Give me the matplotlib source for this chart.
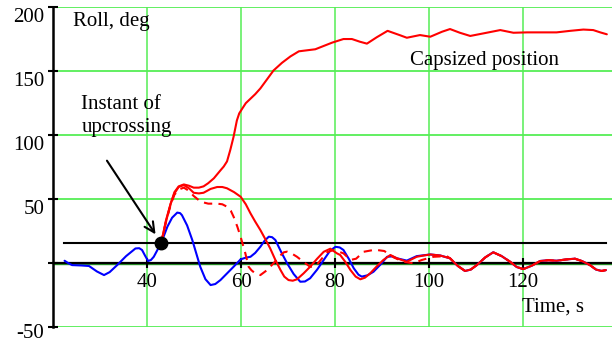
import matplotlib
matplotlib.use("Agg")
import matplotlib.pyplot as plt
from matplotlib.transforms import ScaledTranslation

plt.rcParams['font.family'] = ['Liberation Serif', 'DejaVu Serif']

# ---- data ----
blue_x = [22.4, 23.2, 24.0, 26.0, 27.6, 29.3, 30.8, 32.0, 33.6, 35.5, 37.5, 38.3, 38.9, 39.6,
          40.2, 40.8, 41.4, 42.2, 43.0, 44.3, 45.3, 46.4, 47.0, 47.4, 48.5, 49.6, 51.3, 52.4,
          53.5, 54.5, 55.6, 57.0, 58.4, 59.9, 61.0, 62.0, 63.0, 64.1, 65.0, 65.9, 66.6, 67.3,
          68.5, 69.8, 71.2, 72.6, 73.6, 74.7, 76.2, 77.6, 78.9, 80.1, 81.0, 81.8, 83.0, 84.0,
          85.0, 85.7, 86.9, 88.2, 89.7, 91.1, 92.2, 93.2, 95.3, 97.4]
blue_y = [1.4, -0.5, -2, -2.3, -2.7, -7, -9.8, -7.5, -2, 5, 11, 11.2, 9.8, 5,
          1.2, 2, 4.5, 10, 15.5, 28, 35, 39, 38.6, 37, 29, 17.6, -3.3, -13,
          -17.6, -16.8, -13.7, -8.5, -3.3, 2.5, 3.8, 4.5, 7.5, 12.3, 17, 20.2, 19.8, 17.6,
          8.5, -0.6, -9, -15, -14.8, -12.3, -5.5, 2, 9, 12.3, 11.8, 9.8, 2.5, -4.5,
          -9.5, -11, -10, -7.2, -1.5, 4.5, 4.8, 3.3, 1.5, 5]

tail_x = [100.3, 102.4, 104.5, 106.1, 107.7, 108.9, 110.2, 112.0, 113.7, 115.5, 117.3, 118.7,
          120.1, 121.9, 123.7, 125.5, 127.2, 129.2, 131.1, 132.7, 134.3, 135.6, 136.8, 137.7]
tail_y = [6.3, 5.5, 3.3, -2.5, -6.6, -5.5, -2, 4, 8, 5, 0.6, -3.5,
          -5.1, -2.5, 1.2, 1.8, 1.4, 2.4, 3, 1, -2, -5.5, -6.6, -5.9]

red2_x = [43.0, 44.0, 45.0, 45.8, 46.7, 47.8, 48.9, 49.9, 51.0, 52.0, 53.5, 54.9, 56.0, 57.0,
          58.5, 59.9, 61.0, 62.0, 63.0, 64.1, 65.2, 66.2, 67.3, 68.4, 69.2, 70.1, 71.0, 71.9,
          73.3, 74.7, 76.2, 77.6, 79.0, 80.4, 81.1, 82.2, 83.3, 84.4, 85.4, 86.4, 87.5, 88.9,
          90.3, 91.8, 93.2, 95.3, 97.4, 98.9]
red2_y = [15.5, 32, 46, 54, 59, 60.5, 58, 54.5, 54, 54.5, 57.5, 59, 59, 58,
          55, 51.4, 45.5, 38.4, 32, 25.4, 18, 11, 2, -5.9, -11, -13.7, -14.2, -13.1,
          -8.5, -3.3, 3, 8.4, 10.8, 7.2, 5.9, 0.5, -5.9, -11, -13.1, -11.8, -8.4, -3,
          2, 5.9, 3.3, 0.6, 4.5, 5.5]

cap_x = [43.0, 44.0, 45.0, 45.8, 46.7, 47.8, 48.9, 49.9, 51.0, 52.0, 53.0, 54.2, 55.6, 56.3,
         57.0, 57.7, 58.4, 59.1, 59.6, 60.2, 61.0, 62.0, 63.0, 64.1, 65.5, 66.9, 68.7, 70.5,
         72.3, 75.8, 79.4, 81.8, 83.6, 85.3, 86.8, 88.9, 91.2, 93.9, 95.3, 98.1, 100.3,
         102.8, 104.5, 106.6, 108.8, 111.6, 115.2, 118.0, 120.9, 124.4, 127.2, 130.1, 132.9,
         135.0, 136.5, 137.9]
cap_y = [15.5, 33, 46, 55, 59.5, 61, 60, 58.5, 58.5, 59.5, 62, 65.8, 72, 75,
         79, 88, 98.3, 111, 116.5, 120, 124.5, 128, 131.5, 136, 143, 150, 156, 161,
         165, 166.6, 171.8, 174.6, 174.6, 172.5, 171, 176, 181, 177.5, 175.6, 177.7, 176.4,
         180.3, 182.4, 179.5, 177, 179, 181.6, 179.5, 179.8, 179.8, 179.8, 181, 182,
         181.6, 179.8, 178.3]

dash_x = [43.0, 44.0, 45.0, 45.8, 46.7, 47.8, 48.9, 49.9, 51.4, 53.0, 54.9, 56.0, 57.0, 57.8,
          58.4, 59.2, 59.9, 60.9, 61.6, 62.2, 63.0, 64.1, 65.5, 66.9, 68.2, 69.1, 69.8, 70.8,
          71.9, 73.3, 74.7, 75.5, 76.2, 77.3, 78.3, 79.7, 81.8, 83.3, 84.5, 86.1, 88.5, 90.5,
          92.5, 94.6, 96.7, 98.5, 101.0, 103.8]
dash_y = [15.5, 32, 45, 53, 57, 58.5, 56, 52, 47.5, 46, 46, 45.5, 43.6, 40.5,
          35.8, 28, 20, 7.2, -3.3, -6, -8.5, -9.8, -6, -0.6, 5, 8, 8.5, 7,
          4.5, 0.5, -3.3, -3.2, -1.5, 3.5, 8, 9.8, 7.2, 2, 3, 8.4, 10, 9,
          4, 0.6, -0.6, 2, 4.5, 5]

threshold = 15.5
threshold_x = [22.2, 137.7]
upcross_x, upcross_y = 43.0, 15.5

xticks = [40, 60, 80, 100, 120]
yticks = [-50, 50, 100, 150, 200]
ytick_labels = ['-50', '50', '100', '150', '200']

# ---- figure ----
fig = plt.figure(figsize=(6.12, 3.43), dpi=100)
ax = fig.add_axes([0.0871, 0.048, 0.9129, 0.933])
ax.set_xlim(20, 139)
ax.set_ylim(-50, 200)

green = '#55ee55'
for gx in xticks:
    ax.axvline(gx, color=green, lw=1.1, zorder=1)
for gy in [-50, 50, 100, 150, 200]:
    ax.axhline(gy, color=green, lw=1.3, zorder=1)
ax.axhline(-0.9, color='#2a9a2a', lw=1.0, zorder=1)

for s in ['top', 'right']:
    ax.spines[s].set_visible(False)
ax.spines['left'].set_linewidth(1.8)
ax.spines['bottom'].set_position(('data', 0))
ax.spines['bottom'].set_linewidth(1.6)
ax.spines['bottom'].set_zorder(2)

ax.set_xticks(xticks)
ax.set_xticklabels([str(v) for v in xticks])
ax.set_yticks(yticks + [0])
ax.set_yticklabels(ytick_labels + [''])
ax.tick_params(axis='both', direction='inout', length=7, width=1.5, labelsize=15,
               colors='black')
ax.tick_params(axis='x', pad=4)
ax.tick_params(axis='y', pad=3)
for lbl in ax.get_yticklabels():
    shift = 4 if lbl.get_text() == '-50' else 8
    lbl.set_transform(lbl.get_transform() + ScaledTranslation(0, -shift / 100, fig.dpi_scale_trans))

# threshold line
ax.plot(threshold_x, [threshold, threshold], color='black', lw=1.5, zorder=3)

# curves
kw = dict(lw=1.5, solid_joinstyle='round', solid_capstyle='round')
ax.plot(blue_x + tail_x, blue_y + tail_y, color='#0000ff', zorder=4, **kw)
ax.plot(red2_x + tail_x, red2_y + tail_y, color='#ff0000', zorder=5, **kw)
ax.plot(dash_x + tail_x[2:], dash_y + tail_y[2:], color='#ff0000', lw=1.5,
        dashes=(4, 3), zorder=5)
ax.plot(cap_x, cap_y, color='#ff0000', zorder=5, **kw)

ax.plot([upcross_x], [upcross_y], 'o', color='black', ms=9, zorder=7)

# texts
ax.text(24.3, 188, 'Roll, deg', fontsize=15, va='center', ha='left')
ax.text(96.0, 158.2, 'Capsized position', fontsize=15, va='center', ha='left')
ax.text(26.0, 114.5, 'Instant of\nupcrossing', fontsize=15, va='center', ha='left',
        linespacing=1.3)
ax.text(119.8, -35, 'Time, s', fontsize=15, va='center', ha='left')
ax.annotate('', xy=(42.1, 20.2), xytext=(31.1, 81.4),
            arrowprops=dict(arrowstyle='->', color='black', lw=1.5,
                            mutation_scale=18), zorder=6)

fig.savefig('out.png', dpi=100)
